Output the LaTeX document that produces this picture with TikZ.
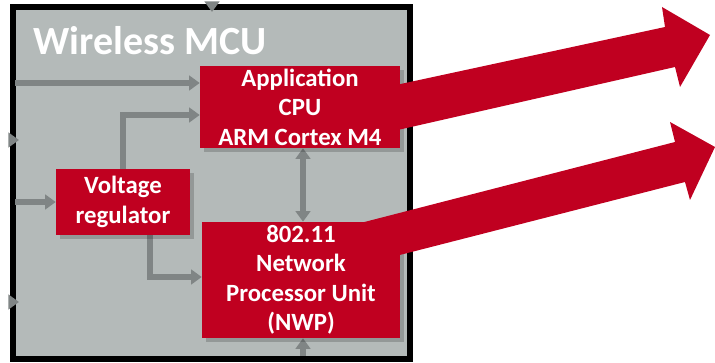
\documentclass[tikz,border=0pt]{standalone}
\usepackage{fontspec}
\setmainfont{Carlito}
\usetikzlibrary{arrows.meta,calc}
\definecolor{tired}{RGB}{192,0,32}
\definecolor{chipgray}{RGB}{180,186,185}
\definecolor{conngray}{RGB}{128,133,133}
\begin{document}
\begin{tikzpicture}[x=0.75pt,y=-0.75pt,
  blk/.style={fill=tired,text=white,font=\bfseries\fontsize{18.6}{22.1}\selectfont,
    align=center,inner sep=0pt},
  conn/.style={draw=conngray,line width=4.5pt,-{Triangle[length=8pt,width=11pt]}},
  dconn/.style={draw=conngray,line width=4.5pt,{Triangle[length=8pt,width=11pt]}-{Triangle[length=8pt,width=11pt]}},
  redarrow/.style={fill=tired,draw=none},
  shadowbox/.style={fill=black,opacity=0.18}]
\useasboundingbox (0,0) rectangle (715,363);
% chip frame
\draw[line width=4.5pt,fill=chipgray] (12.5,7) rectangle (410,359);
\node[anchor=base west,text=white,font=\bfseries\fontsize{30}{34}\selectfont,inner sep=0pt] (title) at (33,55) {Wireless MCU};
% block outlines (positions)
\path (300,107) node[minimum width=150pt,minimum height=61.5pt,inner sep=0pt] (app) {}
      (123,202) node[minimum width=100.5pt,minimum height=49.5pt,inner sep=0pt] (vreg) {}
      (301,280) node[minimum width=148.5pt,minimum height=87pt,inner sep=0pt] (nwp) {};
% connectors
\coordinate (in1) at (15,83);
\coordinate (in2) at (15,202);
\coordinate (in3) at (303,356);
\coordinate (st1) at (10,140);
\coordinate (st2) at (10,302);
\coordinate (st3) at (212,5);
\coordinate (dtop) at ($(app.south)+(3,0)$);
\coordinate (dbot) at (dtop |- nwp.north);
\draw[conn] (in1) -- (in1 -| app.west);
\draw[conn] (vreg.north) |- ($(app.west)+(0,8)$);
\draw[conn] (in2) -- (vreg.west);
\draw[conn] ($(vreg.south)+(27,0)$) |- ($(nwp.west)+(0,-3)$);
\draw[dconn] (dtop) -- (dbot);
\draw[conn] (in3) -- (in3 |- nwp.south);
\draw[conn,line width=2pt] (st1) -- ++(9,0);
\draw[conn,line width=2pt] (st2) -- ++(9,0);
\draw[conn,line width=2pt] (st3) -- ++(0,7);
% shadows
\fill[shadowbox] (204,70) rectangle (404,152);
\fill[shadowbox] (60,173) rectangle (194,239);
\fill[shadowbox] (206,226) rectangle (404,342);
% red arrows
\fill[redarrow] (345,96) -- (665,27) -- (662,7) -- (710,35) -- (680,87) -- (675,67) -- (345,142) -- cycle;
\fill[redarrow] (345,227) -- (675,142) -- (670,122) -- (715,147) -- (690,200) -- (685,182) -- (345,269) -- cycle;
% blocks with text
\node[blk,minimum width=150pt,minimum height=61.5pt] (apptext) at (app.center) {Application\\CPU\\ARM Cortex M4};
\node[blk,minimum width=100.5pt,minimum height=49.5pt] (vregtext) at (vreg.center) {Voltage\\regulator};
\node[blk,minimum width=148.5pt,minimum height=87pt] (nwptext) at (nwp.center) {802.11\\Network\\Processor Unit\\(NWP)};
\end{tikzpicture}
\end{document}
